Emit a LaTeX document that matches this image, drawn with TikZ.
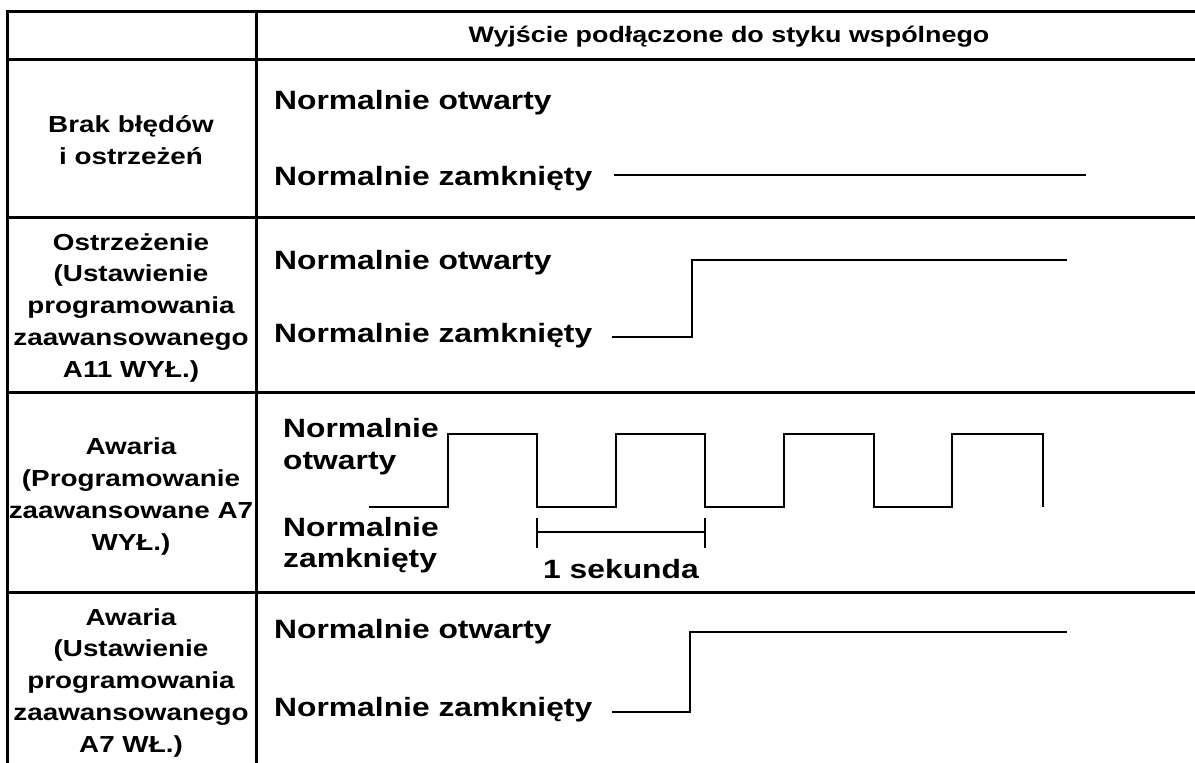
\documentclass[tikz,border=0pt]{standalone}
\usepackage{fontspec}
\setmainfont{Liberation Sans}[FakeStretch=1.2]
\begin{document}
\begin{tikzpicture}[x=1pt,y=-1pt,
  gridline/.style={line width=3pt},
  sig/.style={line width=2.6pt},
  tick/.style={line width=2pt},
  hdr/.style={font=\bfseries\fontsize{22.4}{31.75}\selectfont, inner sep=0pt, anchor=base},
  lbl/.style={font=\bfseries\fontsize{23.2}{31.75}\selectfont, align=center, inner sep=0pt, anchor=base},
  mtxt/.style={font=\bfseries\fontsize{26.5}{32}\selectfont, inner sep=0pt, anchor=base west},
  ctxt/.style={font=\bfseries\fontsize{26.5}{32}\selectfont, inner sep=0pt, anchor=base},
]
\useasboundingbox (0,0) rectangle (1195,763);
% table
\draw[gridline] (1195,11) -| (7,763);
\draw[gridline] (256,11) -- (256,763);
\foreach \yy in {59,217,392,592} \draw[gridline] (7,\yy) -- (1195,\yy);
% header
\node[hdr] (head) at (729,42) {Wyjście podłączone do styku wspólnego};
% row labels (anchor base = last line)
\node[lbl] (l1) at (131,164) {Brak błędów\\i ostrzeżeń};
\node[lbl] (l2) at (131,377) {Ostrzeżenie\\(Ustawienie\\programowania\\zaawansowanego\\A11 WYŁ.)};
\node[lbl] (l3) at (131,550) {Awaria\\(Programowanie\\zaawansowane A7\\WYŁ.)};
\node[lbl] (l4) at (131,752) {Awaria\\(Ustawienie\\programowania\\zaawansowanego\\A7 WŁ.)};
% row 1
\node[mtxt] (r1o) at (274,109) {Normalnie otwarty};
\node[mtxt] (r1z) at (274,185) {Normalnie zamknięty};
\draw[sig] (614,175) -- (1086,175);
% row 2
\node[mtxt] (r2o) at (274,269) {Normalnie otwarty};
\node[mtxt] (r2z) at (274,342) {Normalnie zamknięty};
\draw[sig] (612,337) -| (692,260) -- (1067,260);
% row 3
\node[mtxt] (r3o1) at (283,437) {Normalnie};
\node[mtxt] (r3o2) at (283,469) {otwarty};
\node[mtxt] (r3z1) at (283,536) {Normalnie};
\node[mtxt] (r3z2) at (283,567) {zamknięty};
\draw[sig] (369,507) -- (448,507) -- (448,434) -- (537,434) -- (537,507)
  -- (616,507) -- (616,434) -- (705,434) -- (705,507)
  -- (784,507) -- (784,434) -- (874,434) -- (874,507)
  -- (952,507) -- (952,434) -- (1043,434) -- (1043,507);
\draw[tick] (537,518) -- (537,548);
\draw[tick] (705,518) -- (705,548);
\draw[tick] (537,532) -- (705,532);
\node[ctxt] (sek) at (621,578) {1 sekunda};
% row 4
\node[mtxt] (r4o) at (274,638) {Normalnie otwarty};
\node[mtxt] (r4z) at (274,716) {Normalnie zamknięty};
\draw[sig] (612,712) -| (690,632) -- (1067,632);
\end{tikzpicture}
\end{document}
